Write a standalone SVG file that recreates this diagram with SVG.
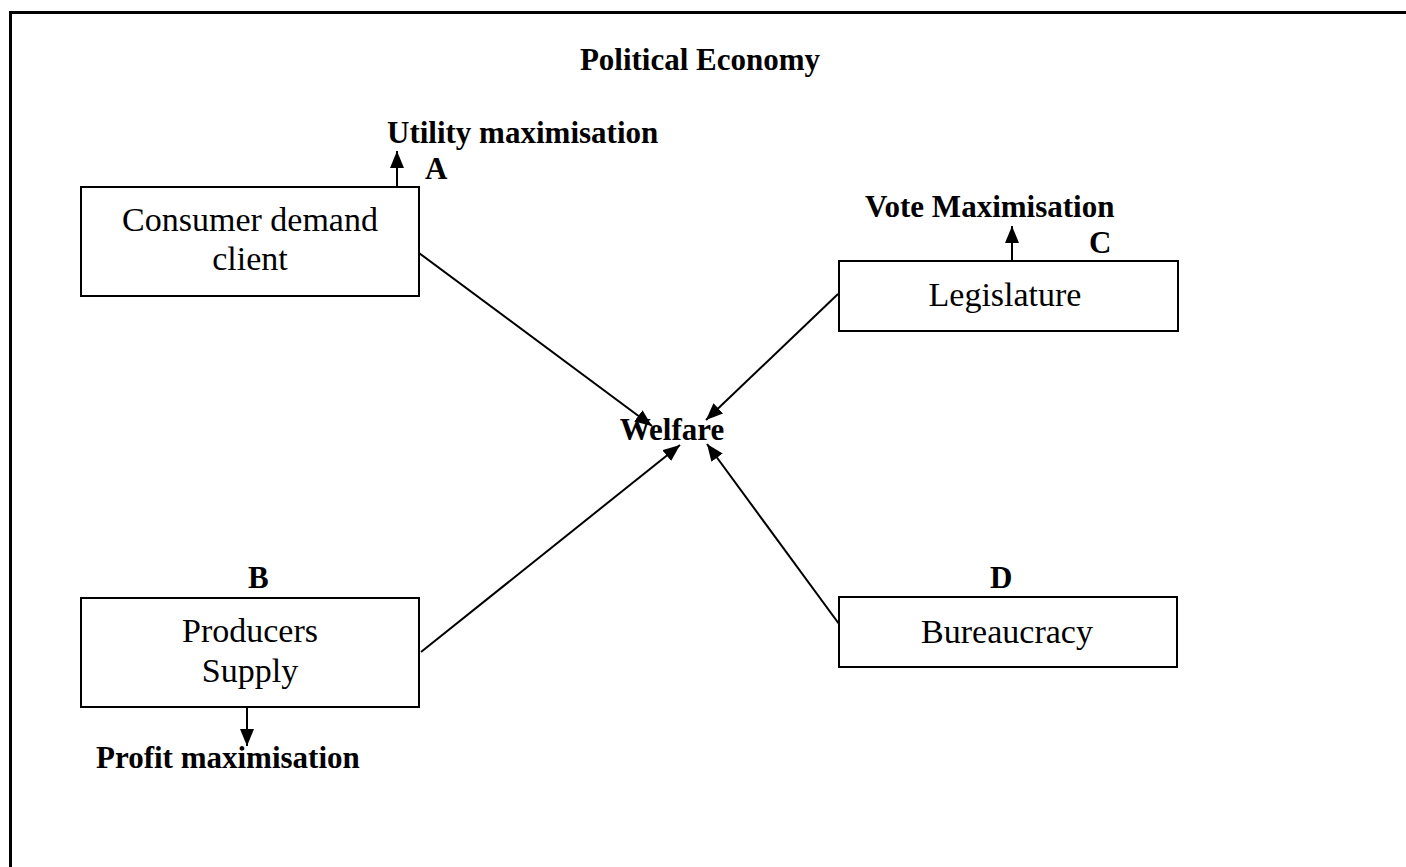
<svg xmlns="http://www.w3.org/2000/svg" width="1406" height="867" viewBox="0 0 1406 867">
<style>
.box{fill:#fff;stroke:#000;stroke-width:2}
.reg{font-family:"Liberation Serif","Times New Roman",serif;font-size:34px;fill:#000}
.bold{font-family:"Liberation Serif","Times New Roman",serif;font-size:31px;font-weight:bold;fill:#000}
.con{stroke:#000;stroke-width:2;fill:none;marker-end:url(#ah)}
</style>
<defs>
<marker id="ah" markerUnits="userSpaceOnUse" markerWidth="19" markerHeight="16" refX="17" refY="7" orient="auto">
<path d="M0,0 L17,7 L0,14 Z" fill="#000"/>
</marker>
</defs>
<rect width="1406" height="867" fill="#fff"/>
<path d="M10.5,867 L10.5,12.5 L1406,12.5" fill="none" stroke="#000" stroke-width="3"/>
<text class="bold" x="700" y="70" text-anchor="middle">Political Economy</text>
<g id="connectors">
<line class="con" x1="419" y1="253" x2="652" y2="426"/>
<line class="con" x1="838" y1="294" x2="706" y2="420"/>
<line class="con" x1="421" y1="652" x2="680" y2="445"/>
<line class="con" x1="864" y1="658" x2="707" y2="444"/>
<line class="con" x1="397" y1="187" x2="397" y2="151"/>
<line class="con" x1="1012" y1="261" x2="1012" y2="226"/>
<line class="con" x1="247" y1="707" x2="247" y2="746"/>
</g>
<g id="consumer">
<rect class="box" x="81" y="187" width="338" height="109"/>
<text class="reg" x="250" y="231" text-anchor="middle">Consumer demand</text>
<text class="reg" x="250" y="270" text-anchor="middle">client</text>
<text class="bold" x="387" y="143">Utility maximisation</text>
<text class="bold" x="425" y="179">A</text>
</g>
<g id="legislature">
<rect class="box" x="839" y="261" width="339" height="70"/>
<text class="reg" x="1005" y="306" text-anchor="middle">Legislature</text>
<text class="bold" x="865" y="217">Vote Maximisation</text>
<text class="bold" x="1089" y="253">C</text>
</g>
<g id="welfare">
<text class="bold" x="672" y="440" text-anchor="middle">Welfare</text>
</g>
<g id="producers">
<rect class="box" x="81" y="598" width="338" height="109"/>
<text class="reg" x="250" y="642" text-anchor="middle">Producers</text>
<text class="reg" x="250" y="682" text-anchor="middle">Supply</text>
<text class="bold" x="248" y="588">B</text>
<text class="bold" x="96" y="768">Profit maximisation</text>
</g>
<g id="bureaucracy">
<rect class="box" x="839" y="597" width="338" height="70"/>
<text class="reg" x="1007" y="643" text-anchor="middle">Bureaucracy</text>
<text class="bold" x="990" y="588">D</text>
</g>
</svg>
